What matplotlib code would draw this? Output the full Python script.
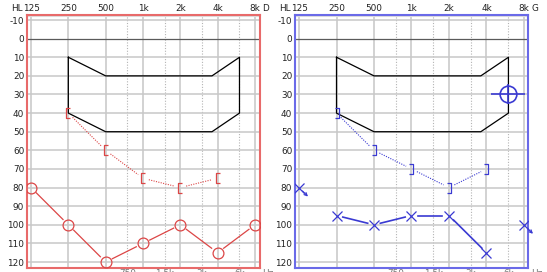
import numpy as np
import matplotlib
matplotlib.use("Agg")
import matplotlib.pyplot as plt
from matplotlib.path import Path
from matplotlib.ticker import NullLocator

W, H = 547, 272

FREQS = [125, 250, 500, 1000, 2000, 4000, 8000]
FREQ_LABELS = ["125", "250", "500", "1k", "2k", "4k", "8k"]
HALF_FREQS = [750, 1500, 3000, 6000]
HALF_LABELS = ["750", "1.5k", "3k", "6k"]
DB_TICKS = list(range(-10, 130, 10))

# right ear (red panel)
right_ac_freqs = [125, 250, 500, 1000, 2000, 4000, 8000]
right_ac_db = [80, 100, 120, 110, 100, 115, 100]
right_bc_freqs = [250, 500, 1000, 2000, 4000]
right_bc_db = [40, 60, 75, 80, 75]

# left ear (blue panel)
left_ac_freqs = [125, 250, 500, 1000, 2000, 4000, 8000]
left_ac_db = [80, 95, 100, 95, 95, 115, 100]
left_ac_no_response = [True, False, False, False, False, False, True]
left_bc_freqs = [250, 500, 1000, 2000, 4000]
left_bc_db = [40, 60, 70, 80, 70]
left_special_freqs = [6000]
left_special_db = [30]

# speech area outline
mask_freqs = [250, 500, 3600, 6000, 6000, 3600, 500, 250, 250]
mask_db = [10, 20, 20, 10, 40, 50, 50, 40, 10]

RED = "#dc4646"
RED_SPINE = "#e86a6a"
BLUE = "#3a3ad2"
BLUE_SPINE = "#6a6ae8"
PX = 72.0 / 100  # points per pixel
FS = 6.4

BRACKET_L = Path([(0.5, 1), (-0.5, 1), (-0.5, -1), (0.5, -1)],
                 [Path.MOVETO, Path.LINETO, Path.LINETO, Path.LINETO])
BRACKET_R = Path([(-0.5, 1), (0.5, 1), (0.5, -1), (-0.5, -1)],
                 [Path.MOVETO, Path.LINETO, Path.LINETO, Path.LINETO])


def setup_axes(fig, left_px, right_px, px_oct, spine_color, letter):
    ax = fig.add_axes([left_px / W, (H - 268) / H,
                       (right_px - left_px) / W, (268 - 15) / H])
    ax.set_xscale("log", base=2)
    x0 = 125 * 2 ** (-4 / px_oct)
    x1 = 8000 * 2 ** ((right_px - left_px - 4 - 6 * px_oct) / px_oct)
    ax.set_xlim(x0, x1)
    ax.set_ylim(123.2, -12.7)
    ax.xaxis.set_major_locator(NullLocator())
    ax.xaxis.set_minor_locator(NullLocator())
    ax.set_yticks(DB_TICKS)
    ax.set_yticklabels([str(v) for v in DB_TICKS])
    ax.tick_params(axis="y", length=0, pad=2.0, labelsize=FS, labelcolor="#222222")
    for s in ax.spines.values():
        s.set_color(spine_color)
        s.set_linewidth(1.5)

    for f in FREQS:
        ax.axvline(f, color="#c6c6c6", lw=1.1, zorder=0.5)
    for f in HALF_FREQS:
        ax.axvline(f, color="#b4b4b4", lw=0.8, ls=(0, (1, 1.5)), zorder=0.5)
    for d in DB_TICKS:
        if d == 0:
            ax.axhline(d, color="#5a5a5a", lw=0.9, zorder=0.6)
        else:
            ax.axhline(d, color="#c8c8c8", lw=1.1, zorder=0.5)
    ax.axhline(-12, color="#dedede", lw=0.8, zorder=0.5)

    top = dict(xycoords=("data", "axes fraction"), textcoords="offset points",
               fontsize=FS, color="#222222", va="center", annotation_clip=False)
    for f, lab in zip(FREQS, FREQ_LABELS):
        ax.annotate(lab, (f, 1), xytext=(0, 6.7 * PX), ha="center", **top)
    ax.annotate("HL", (125, 1), xytext=(-8.2 * PX, 6.7 * PX), ha="right", **top)
    ax.annotate(letter, (8000, 1), xytext=(7.5 * PX, 6.7 * PX), ha="left", **top)

    bot = dict(xycoords=("data", "axes fraction"), textcoords="offset points",
               fontsize=FS, color="#777777", va="top", annotation_clip=False)
    for f, lab in zip(HALF_FREQS, HALF_LABELS):
        ax.annotate(lab, (f, 0), xytext=(0, -1.2 * PX), ha="center", **bot)
    ax.annotate("Hz", (8000, 0), xytext=(7.5 * PX, -1.2 * PX), ha="left", **bot)

    ax.plot(mask_freqs, mask_db, color="black", lw=0.9, zorder=2)
    return ax


def plot_gapped(ax, xs, ys, gap_px, **kw):
    pts = ax.transData.transform(np.column_stack([xs, ys]))
    inv = ax.transData.inverted()
    for p0, p1 in zip(pts[:-1], pts[1:]):
        d = p1 - p0
        n = np.hypot(*d)
        if n <= 2 * gap_px:
            continue
        u = d / n
        a = inv.transform(p0 + u * gap_px)
        b = inv.transform(p1 - u * gap_px)
        ax.plot([a[0], b[0]], [a[1], b[1]], **kw)


fig = plt.figure(figsize=(W / 100, H / 100), dpi=100)
fig.patch.set_facecolor("white")

ax_r = setup_axes(fig, 27, 260, 37.33, RED_SPINE, "D")
ax_l = setup_axes(fig, 295, 528, 37.5, BLUE_SPINE, "G")

# red panel
plot_gapped(ax_r, right_ac_freqs, right_ac_db, 7.5, color=RED, lw=0.9, zorder=3)
ax_r.plot(right_ac_freqs, right_ac_db, ls="none", marker="o", ms=7.8,
          mfc="none", mec=RED, mew=0.9, zorder=4)
plot_gapped(ax_r, right_bc_freqs, right_bc_db, 6, color=RED, lw=0.8,
            ls=(0, (1, 1.2)), zorder=3)
ax_r.plot(right_bc_freqs, right_bc_db, ls="none", marker=BRACKET_L, ms=6.5,
          mfc="none", mec=RED, mew=0.9, zorder=4)

# blue panel
resp_f = [f for f, nr in zip(left_ac_freqs, left_ac_no_response) if not nr]
resp_d = [d for d, nr in zip(left_ac_db, left_ac_no_response) if not nr]
plot_gapped(ax_l, resp_f, resp_d, 6.5, color=BLUE, lw=1.2, zorder=3)
ax_l.plot(left_ac_freqs, left_ac_db, ls="none", marker="x", ms=7.5,
          mec=BLUE, mew=0.9, zorder=4)
inv = ax_l.transData.inverted()
for f, d, nr in zip(left_ac_freqs, left_ac_db, left_ac_no_response):
    if not nr:
        continue
    p = ax_l.transData.transform((f, d))
    a = inv.transform(p + np.array([3.5, -3.5]))
    b = inv.transform(p + np.array([9, -9]))
    ax_l.annotate("", xy=b, xytext=a, annotation_clip=False,
                  arrowprops=dict(arrowstyle="->", color=BLUE, lw=0.9,
                                  shrinkA=0, shrinkB=0, mutation_scale=5))

plot_gapped(ax_l, left_bc_freqs, left_bc_db, 6, color=BLUE, lw=0.8,
            ls=(0, (1, 1.2)), zorder=3)
ax_l.plot(left_bc_freqs, left_bc_db, ls="none", marker=BRACKET_R, ms=6.5,
          mfc="none", mec=BLUE, mew=0.9, zorder=4)

ax_l.plot(left_special_freqs, left_special_db, ls="none", marker="o", ms=12,
          mfc="none", mec=BLUE, mew=1.2, zorder=4)
ax_l.plot(left_special_freqs, left_special_db, ls="none", marker="_", ms=25,
          mec=BLUE, mew=1.2, zorder=4)
ax_l.plot(left_special_freqs, left_special_db, ls="none", marker="|", ms=14,
          mec=BLUE, mew=1.2, zorder=4)

fig.savefig("out.png", dpi=100, facecolor="white")
